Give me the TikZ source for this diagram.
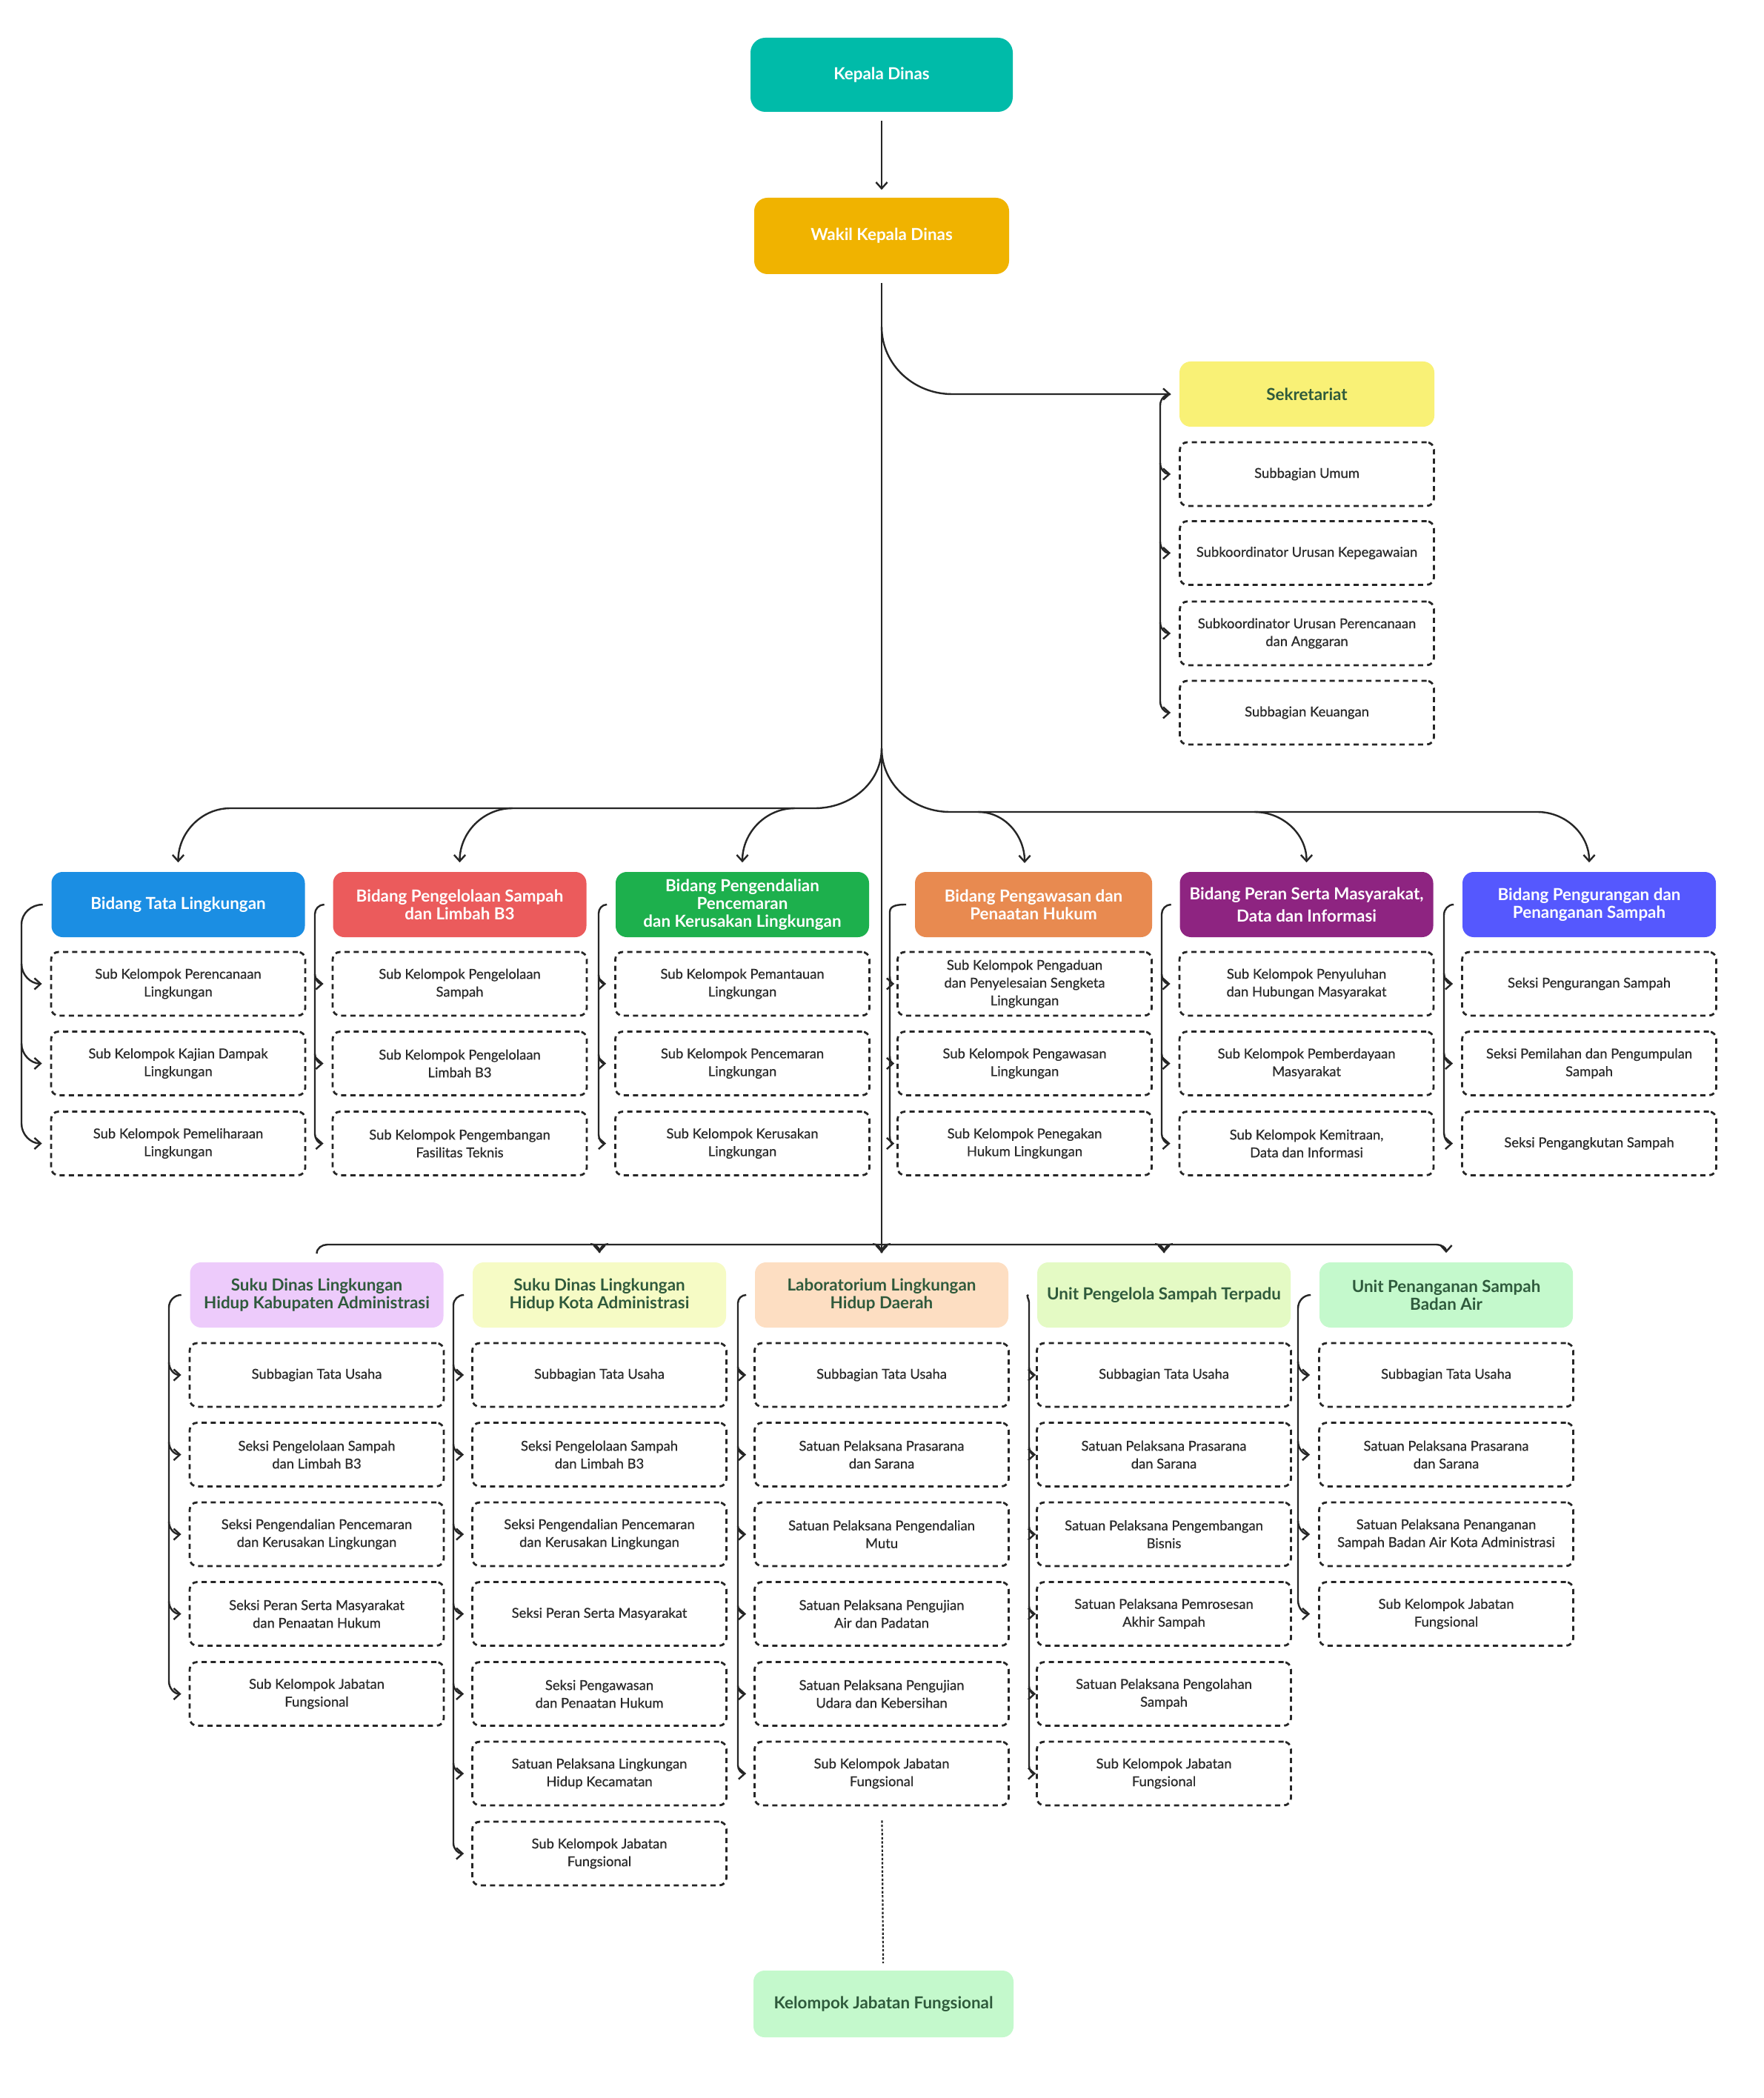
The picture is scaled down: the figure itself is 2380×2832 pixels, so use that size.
\documentclass[tikz,border=0pt]{standalone}
\usepackage{fontspec}
\setmainfont{Lato}
\newfontfamily\subfam[FakeBold=0.6]{Lato}
\usetikzlibrary{arrows.meta,calc}
\definecolor{linec}{HTML}{262626}
\definecolor{subtxt}{HTML}{2A2A2A}
\definecolor{grtxt}{HTML}{2F5A3C}
\definecolor{cKepala}{HTML}{00BBA9}
\definecolor{cWakil}{HTML}{F0B300}
\definecolor{cSek}{HTML}{F9F176}
\definecolor{cTata}{HTML}{1B8EE3}
\definecolor{cPengelolaan}{HTML}{EB5B5C}
\definecolor{cPengendalian}{HTML}{1DB04D}
\definecolor{cPengawasan}{HTML}{E88A50}
\definecolor{cPeran}{HTML}{8E2481}
\definecolor{cPengurangan}{HTML}{5558FE}
\definecolor{cKab}{HTML}{EDCBFB}
\definecolor{cKota}{HTML}{F6FBC5}
\definecolor{cLab}{HTML}{FDDEC2}
\definecolor{cUPST}{HTML}{E4FAC4}
\definecolor{cUPSBA}{HTML}{C4F9CC}
\newcommand\hdrfont{\bfseries\fontsize{5.6}{6}\selectfont}
\newcommand\subfont{\subfam\fontsize{4.6}{6}\selectfont}
\tikzset{
  hdr/.style={rounded corners=3.75pt, minimum width=85.5pt, minimum height=22pt,
    align=center, font=\hdrfont, text=white, inner sep=0pt},
  ghdr/.style={hdr, text=grtxt},
  subbox/.style={draw=linec, line width=0.7pt, dash pattern=on 1.75pt off 1.35pt,
    rounded corners=2.5pt, minimum width=85.75pt, minimum height=21.5pt,
    align=center, font=\subfont, text=subtxt, inner sep=0pt},
  conn/.style={draw=linec, line width=0.6pt},
  arr/.style={-{Straight Barb[length=2.1pt,width=3.8pt]}},
  dotline/.style={draw=linec, line width=0.55pt, dash pattern=on 0.8pt off 0.6pt}
}
% bracket: #1 header, #2 vx, #3 radius, #4 tip gap, #5 middle subs, #6 last sub
\newcommand\brk[6]{%
  \coordinate (vv) at (#2,0);
  \draw[conn,arr] ([xshift=-2.75pt]#1.west) to[out=180,in=90] ($(vv |- #1.west)+(0,#3)$)
     -- ($(vv |- #6.west)+(0,-#3)$) to[out=-90,in=180] ([xshift=-#4]#6.west);
  \foreach \s in {#5}{\draw[conn,arr] ($(vv |- \s.west)+(0,-#3)$) to[out=-90,in=180] ([xshift=-#4]\s.west);}
}
\begin{document}
\begin{tikzpicture}[x=0.25pt,y=-0.25pt]
\fill[white] (0,0) rectangle (2380,2832);
\useasboundingbox (0,0) rectangle (2380,2832);

% top
\node[hdr, fill=cKepala, minimum width=88.5pt, minimum height=25pt, rounded corners=5pt] (kepala) at (1190,101) {Kepala Dinas};
\node[hdr, fill=cWakil, minimum width=86pt, minimum height=25.75pt, rounded corners=4.5pt] (wakil) at (1190,318.5) {Wakil Kepala Dinas};
\draw[conn,arr,shorten <=2.75pt,shorten >=2.5pt] (kepala) -- (wakil);

% sekretariat
\node[ghdr, fill=cSek, minimum width=86pt] (sek) at (1764,532) {Sekretariat};
\node[subbox] (sk1) at (1764,640) {Subbagian Umum};
\node[subbox] (sk2) at (1764,746.5) {Subkoordinator Urusan Kepegawaian};
\node[subbox] (sk3) at (1764,855) {Subkoordinator Urusan Perencanaan\\dan Anggaran};
\node[subbox] (sk4) at (1764,962) {Subbagian Keuangan};

% bidang row
\node[hdr,fill=cTata] (b1) at (240.5,1221) {Bidang Tata Lingkungan};
\node[hdr,fill=cPengelolaan] (b2) at (620.5,1221) {Bidang Pengelolaan Sampah\\dan Limbah B3};
\node[hdr,fill=cPengendalian] (b3) at (1002,1221) {Bidang Pengendalian\\Pencemaran\\dan Kerusakan Lingkungan};
\node[hdr,fill=cPengawasan,minimum width=80pt] (b4) at (1395,1221) {Bidang Pengawasan dan\\Penaatan Hukum};
\node[hdr,fill=cPeran] (b5) at (1763.5,1221) {Bidang Peran Serta Masyarakat,\\[1.5pt]Data dan Informasi};
\node[hdr,fill=cPengurangan] (b6) at (2145,1221) {Bidang Pengurangan dan\\Penanganan Sampah};

\node[subbox] (b1a) at (240.5,1328) {Sub Kelompok Perencanaan\\Lingkungan};
\node[subbox] (b1b) at (240.5,1435.5) {Sub Kelompok Kajian Dampak\\Lingkungan};
\node[subbox] (b1c) at (240.5,1543.5) {Sub Kelompok Pemeliharaan\\Lingkungan};
\node[subbox] (b2a) at (620.5,1328) {Sub Kelompok Pengelolaan\\Sampah};
\node[subbox] (b2b) at (620.5,1435.5) {Sub Kelompok Pengelolaan\\Limbah B3};
\node[subbox] (b2c) at (620.5,1543.5) {Sub Kelompok Pengembangan\\Fasilitas Teknis};
\node[subbox] (b3a) at (1002,1328) {Sub Kelompok Pemantauan\\Lingkungan};
\node[subbox] (b3b) at (1002,1435.5) {Sub Kelompok Pencemaran\\Lingkungan};
\node[subbox] (b3c) at (1002,1543.5) {Sub Kelompok Kerusakan\\Lingkungan};
\node[subbox] (b4a) at (1383,1328) {Sub Kelompok Pengaduan\\dan Penyelesaian Sengketa\\Lingkungan};
\node[subbox] (b4b) at (1383,1435.5) {Sub Kelompok Pengawasan\\Lingkungan};
\node[subbox] (b4c) at (1383,1543.5) {Sub Kelompok Penegakan\\Hukum Lingkungan};
\node[subbox] (b5a) at (1763.5,1328) {Sub Kelompok Penyuluhan\\dan Hubungan Masyarakat};
\node[subbox] (b5b) at (1763.5,1435.5) {Sub Kelompok Pemberdayaan\\Masyarakat};
\node[subbox] (b5c) at (1763.5,1543.5) {Sub Kelompok Kemitraan,\\Data dan Informasi};
\node[subbox] (b6a) at (2145,1328) {Seksi Pengurangan Sampah};
\node[subbox] (b6b) at (2145,1435.5) {Seksi Pemilahan dan Pengumpulan\\Sampah};
\node[subbox] (b6c) at (2145,1543.5) {Seksi Pengangkutan Sampah};

% lower row
\node[ghdr,fill=cKab] (l1) at (427.5,1748) {Suku Dinas Lingkungan\\Hidup Kabupaten Administrasi};
\node[ghdr,fill=cKota] (l2) at (809,1748) {Suku Dinas Lingkungan\\Hidup Kota Administrasi};
\node[ghdr,fill=cLab] (l3) at (1190,1748) {Laboratorium Lingkungan\\Hidup Daerah};
\node[ghdr,fill=cUPST] (l4) at (1571,1748) {Unit Pengelola Sampah Terpadu};
\node[ghdr,fill=cUPSBA] (l5) at (1952,1748) {Unit Penanganan Sampah\\Badan Air};

\node[subbox] (l1a) at (427.5,1856) {Subbagian Tata Usaha};
\node[subbox] (l1b) at (427.5,1963.5) {Seksi Pengelolaan Sampah\\dan Limbah B3};
\node[subbox] (l1c) at (427.5,2071) {Seksi Pengendalian Pencemaran\\dan Kerusakan Lingkungan};
\node[subbox] (l1d) at (427.5,2178.5) {Seksi Peran Serta Masyarakat\\dan Penaatan Hukum};
\node[subbox] (l1e) at (427.5,2286.5) {Sub Kelompok Jabatan\\Fungsional};

\node[subbox] (l2a) at (809,1856) {Subbagian Tata Usaha};
\node[subbox] (l2b) at (809,1963.5) {Seksi Pengelolaan Sampah\\dan Limbah B3};
\node[subbox] (l2c) at (809,2071) {Seksi Pengendalian Pencemaran\\dan Kerusakan Lingkungan};
\node[subbox] (l2d) at (809,2178.5) {Seksi Peran Serta Masyarakat};
\node[subbox] (l2e) at (809,2286.5) {Seksi Pengawasan\\dan Penaatan Hukum};
\node[subbox] (l2f) at (809,2394) {Satuan Pelaksana Lingkungan\\Hidup Kecamatan};
\node[subbox] (l2g) at (809,2502) {Sub Kelompok Jabatan\\Fungsional};

\node[subbox] (l3a) at (1190,1856) {Subbagian Tata Usaha};
\node[subbox] (l3b) at (1190,1963.5) {Satuan Pelaksana Prasarana\\dan Sarana};
\node[subbox] (l3c) at (1190,2071) {Satuan Pelaksana Pengendalian\\Mutu};
\node[subbox] (l3d) at (1190,2178.5) {Satuan Pelaksana Pengujian\\Air dan Padatan};
\node[subbox] (l3e) at (1190,2286.5) {Satuan Pelaksana Pengujian\\Udara dan Kebersihan};
\node[subbox] (l3f) at (1190,2394) {Sub Kelompok Jabatan\\Fungsional};

\node[subbox] (l4a) at (1571,1856) {Subbagian Tata Usaha};
\node[subbox] (l4b) at (1571,1963.5) {Satuan Pelaksana Prasarana\\dan Sarana};
\node[subbox] (l4c) at (1571,2071) {Satuan Pelaksana Pengembangan\\Bisnis};
\node[subbox] (l4d) at (1571,2178.5) {Satuan Pelaksana Pemrosesan\\Akhir Sampah};
\node[subbox] (l4e) at (1571,2286.5) {Satuan Pelaksana Pengolahan\\Sampah};
\node[subbox] (l4f) at (1571,2394) {Sub Kelompok Jabatan\\Fungsional};

\node[subbox] (l5a) at (1952,1856) {Subbagian Tata Usaha};
\node[subbox] (l5b) at (1952,1963.5) {Satuan Pelaksana Prasarana\\dan Sarana};
\node[subbox] (l5c) at (1952,2071) {Satuan Pelaksana Penanganan\\Sampah Badan Air Kota Administrasi};
\node[subbox] (l5d) at (1952,2178.5) {Sub Kelompok Jabatan\\Fungsional};

\node[ghdr,fill=cUPSBA,minimum width=87.75pt,minimum height=22.5pt] (kjf) at (1192.5,2705) {Kelompok Jabatan Fungsional};

% trunk
\draw[conn,arr,shorten <=2.75pt,shorten >=3pt] (wakil) -- (l3);
\coordinate (j1) at (1190,441);
\coordinate (j2) at (1190,1010);
\draw[conn,arr] (j1) to[out=-90,in=180] (1285,532) -- ([xshift=-2.75pt]sek.west);

% bidang bus
\draw[conn,arr] (j2) to[out=-90,in=0] (1100,1091) -- (311,1091) to[out=180,in=90] ([yshift=3pt]b1.north);
\coordinate (p2) at (692,1091);
\coordinate (p3) at (1073,1091);
\draw[conn,arr] (p2) to[out=180,in=90] ([yshift=3pt]b2.north);
\draw[conn,arr] (p3) to[out=180,in=90] ([yshift=3pt]b3.north);
\draw[conn,arr] (j2) to[out=-90,in=180] (1282,1096) -- (2075,1096) to[out=0,in=90] ([yshift=3pt]b6.north);
\coordinate (p4) at (1320,1096);
\coordinate (t4) at (1383,1165);
\coordinate (p5) at (1693,1096);
\draw[conn,arr] (p4) to[out=0,in=90] (t4);
\draw[conn,arr] (p5) to[out=0,in=90] ([yshift=3pt]b5.north);

% lower bus
\draw[conn,arr] ([yshift=2.75pt]l1.north) to[out=90,in=180] (442,1680) -- (1939,1680) to[out=0,in=90] ([yshift=3pt]l5.north);
\foreach \n in {l2,l4}{
  \draw[conn,arr] ($(\n.north)+(-12,-24)$) to[out=0,in=90] ([yshift=3pt]\n.north);
  \draw[conn] ($(\n.north)+(12,-24)$) to[out=180,in=90] ([yshift=3pt]\n.north);
}
\draw[conn] ($(l3.north)+(-12,-24)$) to[out=0,in=90] ([yshift=3pt]l3.north);
\draw[conn] ($(l3.north)+(12,-24)$) to[out=180,in=90] ([yshift=3pt]l3.north);

% brackets
\brk{sek}{1566}{15}{2.75pt}{sk1,sk2,sk3}{sk4}
\brk{b1}{29}{27}{2.75pt}{b1a,b1b}{b1c}
\brk{b2}{425}{13}{2.75pt}{b2a,b2b}{b2c}
\brk{b3}{808}{12}{2.75pt}{b3a,b3b}{b3c}
\brk{b4}{1201}{10}{0.75pt}{b4a,b4b}{b4c}
\brk{b5}{1568}{13}{2.75pt}{b5a,b5b}{b5c}
\brk{b6}{1949}{14}{2.75pt}{b6a,b6b}{b6c}
\brk{l1}{228}{17}{2.5pt}{l1a,l1b,l1c,l1d}{l1e}
\brk{l2}{612}{14}{2.5pt}{l2a,l2b,l2c,l2d,l2e,l2f}{l2g}
\brk{l3}{996}{11}{2.5pt}{l3a,l3b,l3c,l3d,l3e}{l3f}
\brk{l4}{1389}{10}{0pt}{l4a,l4b,l4c,l4d,l4e}{l4f}
\brk{l5}{1752}{18}{2.75pt}{l5a,l5b,l5c}{l5d}

% dotted link
\draw[dotline,shorten <=4.75pt,shorten >=2.25pt] (l3f) -- (kjf);
\end{tikzpicture}
\end{document}
